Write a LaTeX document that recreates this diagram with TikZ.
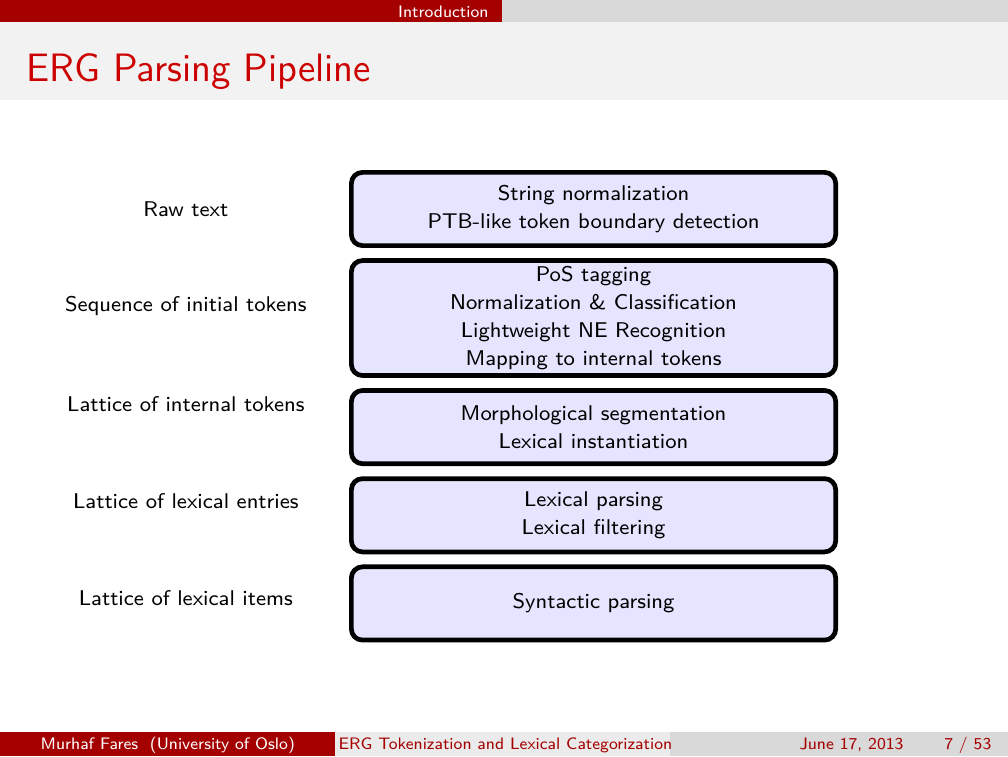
\documentclass[tikz,border=0pt]{standalone}
\usetikzlibrary{positioning}

\definecolor{slidered}{RGB}{165,0,0}
\definecolor{titlered}{RGB}{204,0,0}
\definecolor{titleband}{RGB}{242,242,242}
\definecolor{bargray}{RGB}{217,217,217}
\definecolor{footgray}{RGB}{235,235,235}
\definecolor{stagefill}{RGB}{229,229,255}

\begin{document}
\begin{tikzpicture}[
  x=1cm, y=1cm,
  stage/.style={draw=black, line width=1.7pt, rounded corners=4pt, fill=stagefill,
                minimum width=6.15cm, minimum height=0.93cm, align=center,
                font=\sffamily\fontsize{7.7}{10.1}\selectfont, inner sep=2pt},
  lbl/.style={anchor=base, font=\sffamily\fontsize{7.7}{10.1}\selectfont},
  foot/.style={anchor=base, inner sep=0pt, font=\sffamily\fontsize{6.0}{7.2}\selectfont},
  frametitle/.style={anchor=base west, inner sep=0pt, text=titlered,
                font=\sffamily\fontsize{14.3}{17}\selectfont}
]
\useasboundingbox (0,0) rectangle (12.8,9.6);

% head line and title band
\fill[slidered] (0,9.321) rectangle (6.375,9.6);
\fill[bargray] (6.375,9.321) rectangle (12.8,9.6);
\fill[titleband] (0,8.33) rectangle (12.8,9.321);
\node[foot, anchor=base east, text=white] (sect) at (6.21,9.384) {Introduction};
\node[frametitle] (ttl) at (0.33,8.571) {ERG Parsing Pipeline};

% pipeline stages
\node[stage, anchor=north] (s1) at (7.537,7.441) {String normalization\\PTB-like token boundary detection};
\node[stage, below=0.13cm of s1, minimum height=1.46cm] (s2) {PoS tagging\\Normalization \& Classification\\Lightweight NE Recognition\\Mapping to internal tokens};
\node[stage, below=0.13cm of s2] (s3) {Morphological segmentation\\Lexical instantiation};
\node[stage, below=0.13cm of s3] (s4) {Lexical parsing\\Lexical filtering};
\node[stage, below=0.13cm of s4] (s5) {Syntactic parsing};

% intermediate representations
\node[lbl] (l1) at (2.36,6.857) {Raw text};
\node[lbl] (l2) at (2.36,5.650) {Sequence of initial tokens};
\node[lbl] (l3) at (2.36,4.380) {Lattice of internal tokens};
\node[lbl] (l4) at (2.36,3.148) {Lattice of lexical entries};
\node[lbl] (l5) at (2.36,1.916) {Lattice of lexical items};

% foot line
\fill[slidered] (0,0) rectangle (4.255,0.305);
\fill[footgray] (4.255,0) rectangle (8.509,0.305);
\fill[bargray] (8.509,0) rectangle (12.8,0.305);
\node[foot, text=white] (auth) at (2.13,0.089) {Murhaf Fares~~(University of Oslo)};
\node[foot, anchor=base west, text=slidered] (talk) at (4.293,0.089) {ERG Tokenization and Lexical Categorization};
\node[foot, anchor=base east, text=slidered] (date) at (11.48,0.089) {June 17, 2013};
\node[foot, anchor=base east, text=slidered] (page) at (12.595,0.089) {7 / 53};

\end{tikzpicture}
\end{document}
